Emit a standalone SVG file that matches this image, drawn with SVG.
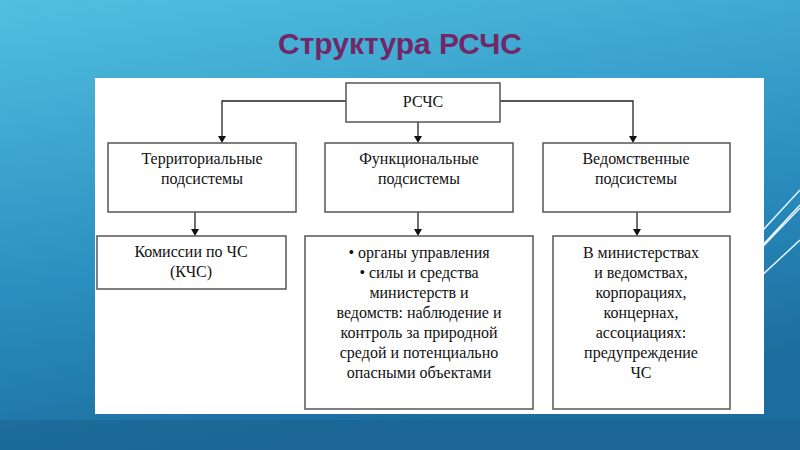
<svg xmlns="http://www.w3.org/2000/svg" width="800" height="450" viewBox="0 0 800 450">
<defs>
<linearGradient id="bg" x1="0" y1="0" x2="0.3" y2="1">
<stop offset="0" stop-color="#52bfe0"/><stop offset="0.6" stop-color="#2a8fc0"/><stop offset="1" stop-color="#1c6d9e"/>
</linearGradient>
<style>
.b{fill:#fff;stroke:#555;stroke-width:1.5}
.t{font-family:"Liberation Serif",serif;font-size:16px;fill:#111;text-anchor:middle}
.c{fill:none;stroke:#222;stroke-width:1.3}
.s{stroke:#e8f6ff;stroke-width:1.5;fill:none}
</style>
</defs>
<rect width="800" height="450" fill="url(#bg)"/>
<rect y="420" width="800" height="30" fill="#1a5f8c" opacity="0.5"/>
<path class="s" d="M740,255 L800,190 M735,275 L800,205 M745,265 L800,208 M730,305 L800,240"/>
<text x="400" y="54" font-family="Liberation Sans,sans-serif" font-size="30" font-weight="bold" fill="#722868" text-anchor="middle">Структура РСЧС</text>
<rect x="95" y="78" width="669" height="336" fill="#fff"/>
<g id="connectors">
<path class="c" d="M346,101 H222 V140 M418,122 V140 M500,101 H633 V140 M195,212 V233 M418,212 V233 M637,212 V233"/>
<path d="M218,136 L226,136 L222,143 Z M414,136 L422,136 L418,143 Z M629,136 L637,136 L633,143 Z M191,229 L199,229 L195,236 Z M414,229 L422,229 L418,236 Z M633,229 L641,229 L637,236 Z" fill="#111"/>
</g>
<g id="n0"><rect class="b" x="346" y="83" width="154" height="39"/><text class="t" x="423" y="107">РСЧС</text></g>
<g id="n1"><rect class="b" x="108" y="143" width="188" height="69"/><text class="t" x="202" y="164">Территориальные</text><text class="t" x="202" y="184">подсистемы</text></g>
<g id="n2"><rect class="b" x="325" y="143" width="188" height="69"/><text class="t" x="419" y="164">Функциональные</text><text class="t" x="419" y="184">подсистемы</text></g>
<g id="n3"><rect class="b" x="543" y="143" width="187" height="69"/><text class="t" x="636" y="164">Ведомственные</text><text class="t" x="636" y="184">подсистемы</text></g>
<g id="n4"><rect class="b" x="97" y="236" width="189" height="53"/><text class="t" x="191" y="257">Комиссии по ЧС</text><text class="t" x="191" y="277">(КЧС)</text></g>
<g id="n5"><rect class="b" x="305" y="236" width="228" height="173"/>
<text class="t" x="419" y="258">•   органы управления</text>
<text class="t" x="419" y="278">•   силы и средства</text>
<text class="t" x="419" y="298">министерств и</text>
<text class="t" x="419" y="318">ведомств: наблюдение и</text>
<text class="t" x="419" y="338">контроль за природной</text>
<text class="t" x="419" y="358">средой и потенциально</text>
<text class="t" x="419" y="378">опасными объектами</text></g>
<g id="n6"><rect class="b" x="553" y="236" width="177" height="173"/>
<text class="t" x="641" y="258">В министерствах</text>
<text class="t" x="641" y="278">и ведомствах,</text>
<text class="t" x="641" y="298">корпорациях,</text>
<text class="t" x="641" y="318">концернах,</text>
<text class="t" x="641" y="338">ассоциациях:</text>
<text class="t" x="641" y="358">предупреждение</text>
<text class="t" x="641" y="378">ЧС</text></g>
</svg>
